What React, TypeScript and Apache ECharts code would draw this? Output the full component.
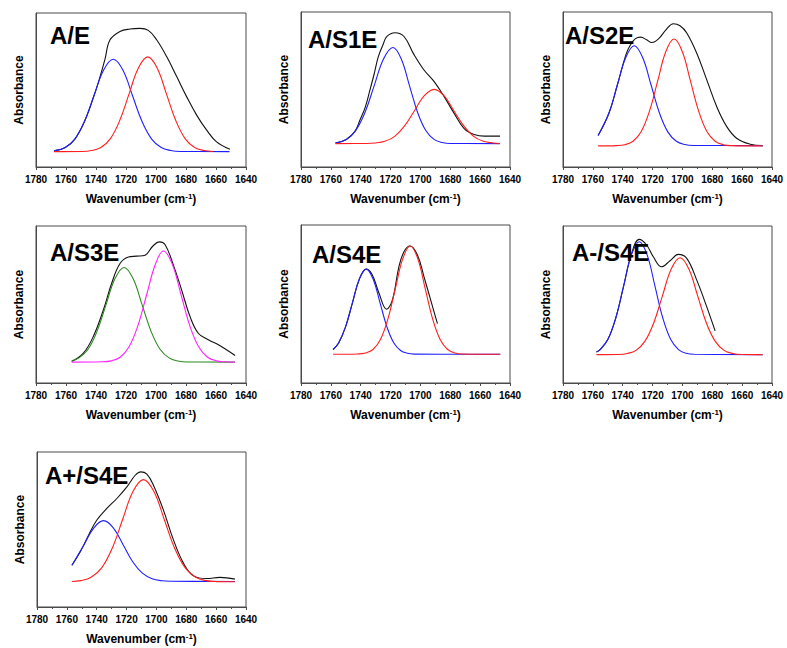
import React, { useEffect, useRef } from "react";
import * as echarts from "echarts";

type Pt = [number, number];

// Axis ticks (wavenumber, cm^-1)
const xTicks = [1780, 1760, 1740, 1720, 1700, 1680, 1660, 1640];

// Panel titles
const titles = ["A/E", "A/S1E", "A/S2E", "A/S3E", "A/S4E", "A-/S4E", "A+/S4E"];

// ---- A/E ----
const aeMeasured: Pt[] = [
  [1768, 10.5], [1760.5, 12.6], [1754.1, 18.1], [1747.7, 29.5], [1741.3, 46.4], [1737.3, 58.6],
  [1734, 70], [1730.7, 82.5], [1724, 88], [1717.3, 89.6], [1710.7, 90], [1705.1, 88.7], [1699.6, 82.6],
  [1692.9, 71.7], [1686.2, 58.7], [1679.6, 45.7], [1672.9, 33.7], [1666.2, 23.9], [1659.6, 16.3],
  [1650.7, 11.5],
];
const aePeak1: Pt[] = [
  [1768, 10.5], [1760.5, 12.6], [1754.1, 18.1], [1747.7, 29.5], [1741.3, 46.4], [1734.9, 63.0],
  [1728.5, 70], [1722.1, 63.0], [1715.7, 46.4], [1709.3, 29.5], [1702.9, 18.1], [1696.5, 12.6],
  [1690.1, 10.7], [1683.7, 10.1], [1651, 10],
];
const aePeak2: Pt[] = [
  [1768, 10], [1749.25, 10.1], [1743, 10.7], [1736.75, 12.7], [1730.5, 18.3], [1724.25, 30.0],
  [1718, 47.3], [1711.75, 64.3], [1705.5, 71.5], [1699.25, 64.3], [1693, 47.3], [1686.75, 30.0],
  [1680.5, 18.3], [1674.25, 12.7], [1668, 10.7], [1662, 10.1],
];

// ---- A/S1E ----
const s1Measured: Pt[] = [
  [1756.9, 15.4], [1749.65, 17.8], [1744, 22.8], [1740.5, 30.3], [1737, 38.5], [1733.8, 49.7],
  [1731, 60], [1728.2, 71.2], [1725, 79], [1722.6, 84.1], [1717, 86.6], [1711, 84.2], [1704.3, 72.5],
  [1697.6, 62.6], [1690.8, 55.1], [1684.1, 45.4], [1677.4, 34.6], [1670.7, 24.8], [1664, 21],
  [1657.2, 19.9], [1646.7, 19.9],
];
const s1Peak1: Pt[] = [
  [1756.9, 15.6], [1749.65, 17.8], [1743.4, 23.5], [1737.15, 35.2], [1730.9, 52.7], [1724.65, 69.8],
  [1718.4, 77.1], [1712.9, 69.8], [1707.4, 52.7], [1701.9, 35.2], [1696.4, 23.5], [1690.9, 17.8],
  [1685.4, 15.8], [1679.9, 15.2], [1646.7, 15.1],
];
const s1Peak2: Pt[] = [
  [1756.9, 15.1], [1737, 15.2], [1730.4, 15.5], [1723.8, 16.6], [1717.2, 19.8], [1710.6, 26.5],
  [1704, 36.3], [1697.4, 46.0], [1690.8, 50.1], [1684.2, 46.0], [1677.6, 36.3], [1671, 26.5],
  [1664.4, 19.8], [1657.8, 16.6], [1651.2, 15.5], [1646.7, 15.2],
];

// ---- A/S2E ----
const s2Measured: Pt[] = [
  [1756.5, 20.3], [1749.25, 34.7], [1743.6, 52.9], [1738, 72], [1735, 78.5], [1731.5, 82.8],
  [1728, 83.8], [1724, 82.1], [1720.6, 80.3], [1716.2, 82.5], [1710.6, 89], [1706.1, 92.4],
  [1701.6, 91.1], [1697.1, 86.4], [1690.4, 73.4], [1683.7, 56.2], [1677, 38.9], [1670.2, 25.9],
  [1663.5, 18.4], [1654.6, 14.7], [1646.3, 13.8],
];
const s2Peak1: Pt[] = [
  [1756.5, 20.3], [1749.25, 34.7], [1743.6, 52.9], [1737.95, 70.6], [1732.3, 78.2], [1726.65, 70.6],
  [1721, 52.9], [1715.35, 34.7], [1709.7, 22.5], [1704.05, 16.6], [1698.4, 14.5], [1692.75, 13.9],
  [1646.3, 13.8],
];
const s2Peak2: Pt[] = [
  [1756.5, 13.6], [1744.1, 13.8], [1738.6, 14.4], [1733.1, 16.6], [1727.6, 22.9], [1722.1, 36.0],
  [1716.6, 55.4], [1711.1, 74.5], [1705.6, 82.6], [1700.1, 74.5], [1694.6, 55.4], [1689.1, 36.0],
  [1683.6, 22.9], [1678.1, 16.6], [1672.6, 14.4], [1667.1, 13.8], [1646.3, 13.6],
];

// ---- A/S3E ----
const s3Measured: Pt[] = [
  [1756.2, 13.7], [1748.4, 19], [1741.8, 29.6], [1735.1, 46.5], [1729.6, 63.4], [1724, 76.1],
  [1718.4, 80.3], [1712.9, 80.8], [1707.3, 81.4], [1702.2, 87.1], [1697.8, 89.9], [1694, 88.2],
  [1688.4, 75.1], [1682.9, 59.2], [1677.3, 42.3], [1671.8, 31.7], [1665.1, 27.5], [1658.4, 24.3],
  [1647.3, 17.5],
];
const s3Peak1: Pt[] = [
  [1756.2, 14.2], [1751.3, 16.0], [1745.3, 21.5], [1739.3, 32.9], [1733.3, 49.9], [1727.3, 66.5],
  [1721.3, 73.6], [1715.3, 66.5], [1709.3, 49.9], [1703.3, 32.9], [1697.3, 21.5], [1691.3, 16.0],
  [1685.3, 14.0], [1679.3, 13.4], [1647.3, 13.3],
];
const s3Peak2: Pt[] = [
  [1756.2, 13.3], [1735.75, 13.5], [1729.85, 14.1], [1723.95, 16.4], [1718.05, 22.9], [1712.15, 36.3],
  [1706.25, 56.2], [1700.35, 75.8], [1695.1, 84.1], [1689.2, 75.8], [1683.3, 56.2], [1677.4, 36.3],
  [1671.5, 22.9], [1665.6, 16.4], [1659.7, 14.1], [1653.8, 13.5], [1647.3, 13.3],
];

// ---- A/S4E ----
const s4Measured: Pt[] = [
  [1758.5, 21.2], [1754.7, 25.5], [1750.1, 35.7], [1745.5, 50.9], [1740.9, 65.8], [1736.3, 72.1],
  [1732.3, 68.5], [1727.8, 57], [1722.7, 46.7], [1718.8, 52.4], [1714.4, 73.6], [1711, 83.1],
  [1707, 86.7], [1702, 81], [1697.6, 67.2], [1693.1, 52.4], [1688.6, 37.6],
];
const s4Peak1: Pt[] = [
  [1758.5, 21.2], [1754.7, 25.5], [1750.1, 35.7], [1745.5, 50.9], [1740.9, 65.8], [1736.3, 72.1],
  [1731.7, 65.8], [1727.1, 50.9], [1722.5, 35.7], [1717.9, 25.5], [1713.3, 20.6], [1708.7, 18.8],
  [1704.1, 18.3], [1646.5, 18.2],
];
const s4Peak2: Pt[] = [
  [1758.5, 18.2], [1741.8, 18.4], [1736.8, 19.0], [1731.8, 21.2], [1726.8, 27.5], [1721.8, 40.4],
  [1716.8, 59.7], [1711.8, 78.7], [1706.8, 86.7], [1701.8, 78.7], [1696.8, 59.7], [1691.8, 40.4],
  [1686.8, 27.5], [1681.8, 21.2], [1676.8, 19.0], [1671.8, 18.4], [1646.5, 18.2],
];

// ---- A-/S4E ----
const m4Measured: Pt[] = [
  [1757.6, 19.8], [1755.15, 21.3], [1749.9, 27.8], [1744.65, 41.4], [1739.4, 61.7], [1734.15, 82.2],
  [1728.9, 91.5], [1724, 87.9], [1719.5, 80.4], [1713.9, 74], [1708.3, 77.9], [1702.7, 81.9],
  [1697.1, 79.4], [1690.4, 65.5], [1683.7, 48.5], [1678.1, 33.2],
];
const m4Peak1: Pt[] = [
  [1757.6, 19.8], [1755.15, 21.3], [1749.9, 27.8], [1744.65, 41.4], [1739.4, 61.7], [1734.15, 81.6],
  [1728.9, 90.0], [1723.65, 81.6], [1718.4, 61.7], [1713.15, 41.4], [1707.9, 27.8], [1702.65, 21.3],
  [1697.4, 18.9], [1692.15, 18.3], [1646.3, 18.1],
];
const m4Peak2: Pt[] = [
  [1757.6, 18.1], [1742.9, 18.2], [1737, 18.8], [1731.1, 20.8], [1725.2, 26.5], [1719.3, 38.1],
  [1713.4, 55.5], [1707.5, 72.6], [1701.6, 79.8], [1695.7, 72.6], [1689.8, 55.5], [1683.9, 38.1],
  [1678, 26.5], [1672.1, 20.8], [1666.2, 18.8], [1660.3, 18.2], [1646.3, 18.1],
];

// ---- A+/S4E ----
const p4Measured: Pt[] = [
  [1756.6, 26.9], [1751, 35.6], [1745.4, 46.5], [1739.9, 56.1], [1733.2, 63.6], [1726.5, 70],
  [1719.8, 77.5], [1714.2, 85], [1710.5, 87.2], [1706.4, 85.7], [1702, 78.6], [1695.3, 62.5],
  [1688.6, 43.3], [1681.9, 28.3], [1675.2, 20.1], [1666.3, 18.4], [1657.4, 19.1], [1647.4, 18],
];
const p4Peak1: Pt[] = [
  [1756.6, 26.9], [1748.4, 40.3], [1741.9, 51.1], [1735.4, 55.7], [1728.9, 51.1], [1722.4, 40.3],
  [1715.9, 29.2], [1709.4, 21.8], [1702.9, 18.2], [1696.4, 16.9], [1689.9, 16.6], [1647.4, 16.5],
];
const p4Peak2: Pt[] = [
  [1756.6, 16.5], [1750.7, 17.0], [1743.7, 19.2], [1736.7, 25.2], [1729.7, 37.7], [1722.7, 56.3],
  [1715.7, 74.5], [1708.7, 82.2], [1701.7, 74.5], [1694.7, 56.3], [1687.7, 37.7], [1680.7, 25.2],
  [1673.7, 19.2], [1666.7, 17.0], [1659.7, 16.4], [1647.4, 16.3],
];

const BLUE = "#1f1fff";
const RED = "#ff1f1f";
const GREEN = "#2b8a1f";
const MAGENTA = "#ff22ff";
const BLACK = "#111111";

const panelCurves: { data: Pt[]; color: string }[][] = [
  [{ data: aeMeasured, color: BLACK }, { data: aePeak1, color: BLUE }, { data: aePeak2, color: RED }],
  [{ data: s1Measured, color: BLACK }, { data: s1Peak1, color: BLUE }, { data: s1Peak2, color: RED }],
  [{ data: s2Measured, color: BLACK }, { data: s2Peak1, color: BLUE }, { data: s2Peak2, color: RED }],
  [{ data: s3Measured, color: BLACK }, { data: s3Peak1, color: GREEN }, { data: s3Peak2, color: MAGENTA }],
  [{ data: s4Measured, color: BLACK }, { data: s4Peak1, color: BLUE }, { data: s4Peak2, color: RED }],
  [{ data: m4Measured, color: BLACK }, { data: m4Peak1, color: BLUE }, { data: m4Peak2, color: RED }],
  [{ data: p4Measured, color: BLACK }, { data: p4Peak1, color: BLUE }, { data: p4Peak2, color: RED }],
];

// Plot boxes (px) and title offsets inside each box
const boxes = [
  { left: 36, top: 13, width: 210, height: 154, tx: 14, ty: 10 },
  { left: 301, top: 12, width: 209, height: 155, tx: 7, ty: 15 },
  { left: 563, top: 12, width: 209, height: 155, tx: 2, ty: 11 },
  { left: 36, top: 226, width: 210, height: 157, tx: 14, ty: 14 },
  { left: 301, top: 225, width: 209, height: 158, tx: 11, ty: 17 },
  { left: 563, top: 226, width: 209, height: 157, tx: 9, ty: 14 },
  { left: 37, top: 452, width: 209, height: 155, tx: 8, ty: 11 },
];

const FONT = "'Liberation Sans', Arial, Helvetica, sans-serif";
const FRAME = "#4a4a4a";

export default function App() {
  const ref = useRef<HTMLDivElement>(null);

  useEffect(() => {
    if (!ref.current) return;
    const chart = echarts.init(ref.current, undefined, { renderer: "svg" });

    const option: any = {
      animation: false,
      backgroundColor: "#ffffff",
      grid: boxes.map((b) => ({
        left: b.left,
        top: b.top,
        width: b.width,
        height: b.height,
        show: true,
        borderColor: FRAME,
        borderWidth: 1,
        backgroundColor: "transparent",
      })),
      xAxis: boxes.map((_, i) => ({
        type: "value",
        gridIndex: i,
        min: xTicks[xTicks.length - 1],
        max: xTicks[0],
        interval: 20,
        inverse: true,
        axisLine: { show: true, lineStyle: { color: FRAME, width: 1 } },
        axisTick: { show: true, inside: false, length: 3, lineStyle: { color: FRAME } },
        minorTick: { show: true, splitNumber: 2, length: 2, lineStyle: { color: FRAME } },
        splitLine: { show: false },
        axisLabel: {
          color: "#000",
          fontFamily: FONT,
          fontWeight: "bold",
          fontSize: 10,
          margin: 7,
          formatter: (v: number) => String(v),
        },
        name: "Wavenumber (cm{sup|-1})",
        nameLocation: "middle",
        nameGap: 25,
        nameTextStyle: {
          color: "#000",
          fontFamily: FONT,
          fontWeight: "bold",
          fontSize: 12,
          lineHeight: 14,
          rich: {
            sup: {
              fontFamily: FONT,
              fontWeight: "bold",
              fontSize: 8,
              lineHeight: 14,
              verticalAlign: "top",
              color: "#000",
            },
          },
        },
      })),
      yAxis: boxes.map((_, i) => ({
        type: "value",
        gridIndex: i,
        min: 0,
        max: 100,
        axisLine: { show: true, lineStyle: { color: FRAME, width: 1 } },
        axisTick: { show: false },
        axisLabel: { show: false },
        splitLine: { show: false },
        name: "Absorbance",
        nameLocation: "middle",
        nameGap: 11,
        nameTextStyle: {
          color: "#000",
          fontFamily: FONT,
          fontWeight: "bold",
          fontSize: 12,
        },
      })),
      series: panelCurves.flatMap((curves, i) =>
        curves.map((c) => ({
          type: "line",
          xAxisIndex: i,
          yAxisIndex: i,
          data: c.data,
          showSymbol: false,
          symbol: "none",
          smooth: 0.4,
          lineStyle: { color: c.color, width: 1.1 },
          itemStyle: { color: c.color },
          silent: true,
        }))
      ),
      graphic: boxes.map((b, i) => ({
        type: "text",
        left: b.left + b.tx,
        top: b.top + b.ty,
        z: 100,
        style: {
          text: titles[i],
          fill: "#000",
          font: `bold 24px ${FONT}`,
        },
      })),
    };

    chart.setOption(option);
    return () => chart.dispose();
  }, []);

  return (
    <div
      ref={ref}
      style={{ position: "fixed", left: 0, top: 0, width: 787, height: 648 }}
    />
  );
}
